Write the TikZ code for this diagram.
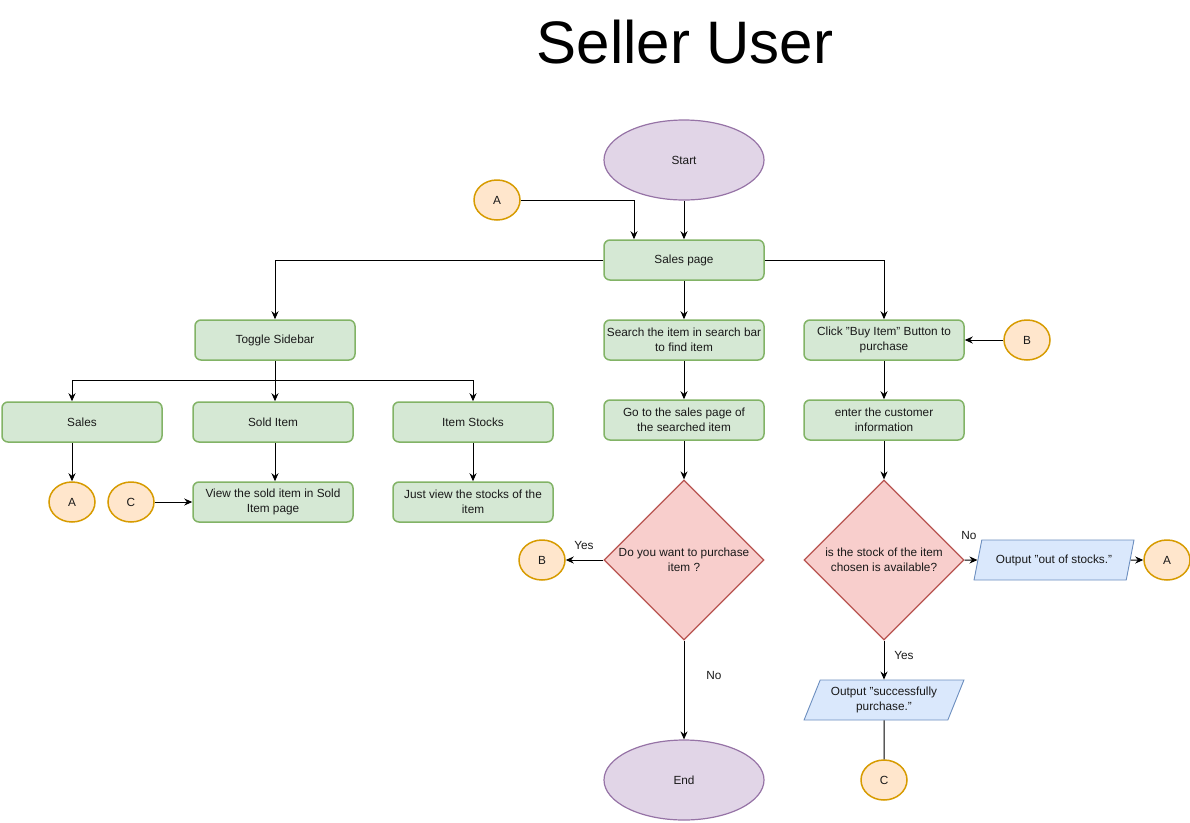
\documentclass[tikz,border=0pt]{standalone}
\usepackage{fontspec}
\setmainfont{Liberation Sans}
\usepackage{xcolor}
\definecolor{GreenF}{RGB}{213,232,212}
\definecolor{GreenD}{RGB}{130,179,102}
\definecolor{PurpF}{RGB}{225,213,231}
\definecolor{PurpD}{RGB}{150,115,166}
\definecolor{RedF}{RGB}{248,206,204}
\definecolor{RedD}{RGB}{184,84,80}
\definecolor{BlueF}{RGB}{218,232,252}
\definecolor{BlueD}{RGB}{108,142,191}
\definecolor{OrF}{RGB}{255,230,204}
\definecolor{OrD}{RGB}{215,155,0}
\usetikzlibrary{shapes.geometric}
\usetikzlibrary{arrows.meta}
\newcommand{\Qt}{\symbol{"22}}
\tikzstyle{Txt}=[font=\fontsize{11.8}{15}\selectfont,align=center,text=black!90]
\tikzstyle{Step}=[Txt,rectangle,rounded corners=6pt,draw=GreenD,fill=GreenF,
line width=1.5pt,minimum width=160pt,minimum height=40pt,inner sep=1pt]
\tikzstyle{Term}=[Txt,ellipse,draw=PurpD,fill=PurpF,line width=1.2pt,
minimum width=160pt,minimum height=80pt]
\tikzstyle{Decision}=[Txt,diamond,draw=RedD,fill=RedF,line width=1.2pt,
minimum width=160pt,minimum height=160pt,inner sep=0pt]
\tikzstyle{Output}=[Txt,trapezium,trapezium left angle=64,
trapezium right angle=116,trapezium stretches=true,draw=BlueD,fill=BlueF,
line width=0.9pt,minimum width=160pt,minimum height=40pt,inner sep=1pt]
\tikzstyle{Conn}=[Txt,ellipse,draw=OrD,fill=OrF,line width=1.5pt,
minimum width=46pt,minimum height=40pt,inner sep=0pt]
\tikzstyle{Edge}=[draw=black,line width=1pt,-{Stealth[length=8pt,width=7pt]}]
\tikzstyle{Line}=[draw=black,line width=1pt]

\begin{document}
\begin{tikzpicture}[x=1pt,y=-1pt]
        \useasboundingbox(0,0)rectangle(1190,822);
        \node[font=\fontsize{60}{60}\selectfont](title)at(685,42){Seller User};
        \node[Term](start)at(684,160){Start};
        \node[Conn](a1)at(497,200){A};
        \node[Step](sp)at(684,260){Sales page};
        \node[Step](ts)at(275,340){Toggle Sidebar};
        \node[Step](srch)at(684,340){Search the item in search bar\\to find item};
        \node[Step](buy)at(884,340){Click \Qt Buy Item\Qt{} Button to\\purchase};
        \node[Conn](b1)at(1027,340){B};
        \coordinate(split)at(275,380);
        \node[Step](sales)at(82,422){Sales};
        \node[Step](sold)at(273,422){Sold Item};
        \node[Step](stock)at(473,422){Item Stocks};
        \node[Step](go)at(684,420){Go to the sales page of\\the searched item};
        \node[Step](cust)at(884,420){enter the customer\\information};
        \node[Conn](a2)at(72,502){A};
        \node[Conn](c1)at(131,502){C};
        \node[Step](view)at(273,502){View the sold item in Sold\\Item page};
        \node[Step](just)at(473,502){Just view the stocks of the\\item};
        \node[Decision,label={[Txt]center:Do you want to purchase\\item ?}](d1)
            at(684,560){};
        \node[Decision,label={[Txt]center:is the stock of the item\\chosen is available?}](d2)
            at(884,560){};
        \node[Conn](b2)at(542,560){B};
        \node[Output](oos)at(1054,560){Output \Qt out of stocks.\Qt};
        \node[Conn](a3)at(1167,560){A};
        \node[Output](succ)at(884,700){Output \Qt successfully\\purchase.\Qt};
        \node[Term](end)at(684,780){End};
        \node[Conn](c2)at(884,780){C};
        \node[Txt](yes1)at(584,545){Yes};
        \node[Txt](no1)at(714,675){No};
        \node[Txt](no2)at(969,535){No};
        \node[Txt](yes2)at(904,655){Yes};
        \draw[Edge](start)--(sp);
        \draw[Edge](a1)-|([xshift=-50pt]sp.north);
        \draw[Edge](sp.west)-|(ts.north);
        \draw[Edge](sp)--(srch);
        \draw[Edge](sp.east)-|(buy.north);
        \draw[Edge](b1)--(buy);
        \draw[Line](ts)--(split);
        \draw[Edge](split)-|(a2|-sales.north);
        \draw[Edge](split)--(sold.north-|split);
        \draw[Edge](split)-|(stock.north);
        \draw[Edge](srch)--(go);
        \draw[Edge](buy)--(cust);
        \draw[Edge](sales.south-|a2)--(a2);
        \draw[Edge](sold.south-|split)--(view.north-|split);
        \draw[Edge](c1)--(view);
        \draw[Edge](stock)--(just);
        \draw[Edge](go)--(d1);
        \draw[Edge](cust)--(d2);
        \draw[Edge](d1)--(b2);
        \draw[Edge](d1)--(end);
        \draw[Edge](d2)--(oos);
        \draw[Edge](oos)--(a3);
        \draw[Edge](d2)--(succ);
        \draw[Line](succ)--(c2);
    \end{tikzpicture}
\end{document}
